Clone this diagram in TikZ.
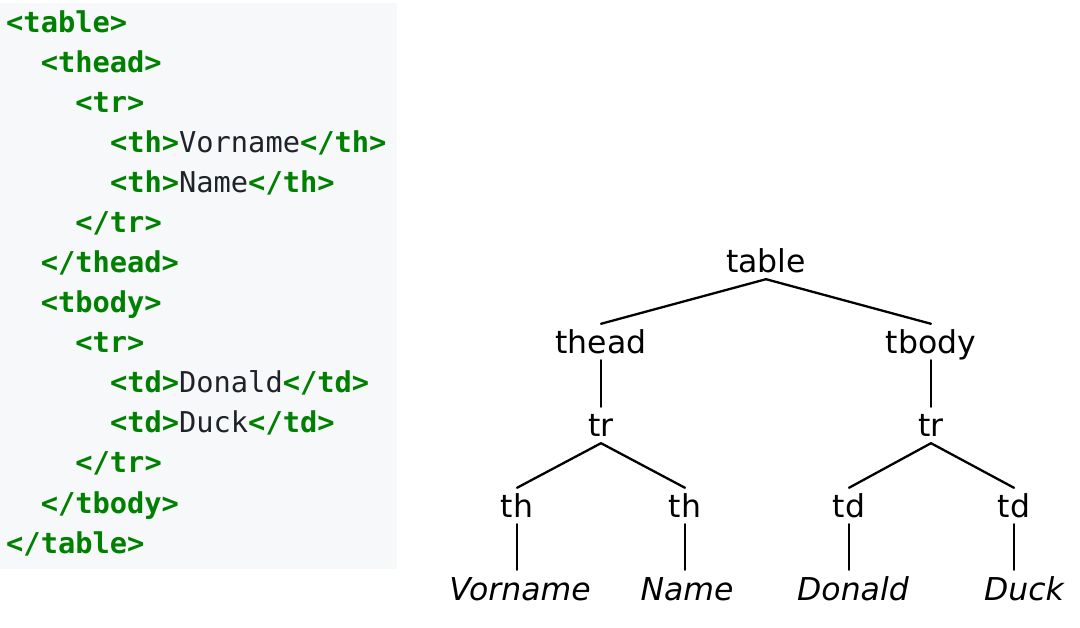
\documentclass[tikz,border=0pt]{standalone}
\usepackage{fontspec}
\setmonofont{DejaVu Sans Mono}
\newfontfamily\treefont{DejaVu Sans}
\definecolor{codebg}{HTML}{F6F8FA}
\definecolor{tagc}{HTML}{008000}
\definecolor{codetxt}{HTML}{1F2328}
\newcommand{\tg}[1]{\textcolor{tagc}{\bfseries #1}}
\begin{document}
\begin{tikzpicture}[x=1pt, y=-1pt, line cap=round, line join=round,
		code/.style={anchor=base west, inner sep=0pt, font=\fontsize{28.7}{30}\selectfont\ttfamily, text=codetxt},
		tn/.style={anchor=base, inner xsep=0pt, inner ysep=6pt, text height=24pt, text depth=0pt, font=\fontsize{31.5}{34}\selectfont\treefont},
		lf/.style={tn, font=\fontsize{31.5}{34}\selectfont\treefont\itshape},
		edge/.style={line width=2.3pt}]
		\useasboundingbox (0,0) rectangle (1080,628);
		\fill[codebg] (0,3) rectangle (397,569);
		\foreach \n/\ind/\txt in {1/0/{\tg{<table>}}, 2/1/{\tg{<thead>}}, 3/2/{\tg{<tr>}},
			4/3/{\tg{<th>}Vorname\tg{</th>}}, 5/3/{\tg{<th>}Name\tg{</th>}}, 6/2/{\tg{</tr>}},
			7/1/{\tg{</thead>}}, 8/1/{\tg{<tbody>}}, 9/2/{\tg{<tr>}},
			10/3/{\tg{<td>}Donald\tg{</td>}}, 11/3/{\tg{<td>}Duck\tg{</td>}}, 12/2/{\tg{</tr>}},
			13/1/{\tg{</tbody>}}, 14/0/{\tg{</table>}}}
			\node[code] (c\n) at ({6+34.6*\ind}, {33+40*(\n-1)}) {\txt};
		\node[tn] (table) at (766,273) {table};
		\node[tn] (thead) at (601,354) {thead};
		\node[tn] (tbody) at (931,354) {tbody};
		\node[tn] (trh) at (601,437) {tr};
		\node[tn] (trb) at (931,437) {tr};
		\node[tn] (th1) at (517,518) {th};
		\node[tn] (th2) at (685,518) {th};
		\node[tn] (td1) at (849,518) {td};
		\node[tn] (td2) at (1014,518) {td};
		\node[lf] (vorname) at (520,600) {Vorname};
		\node[lf] (name) at (687,600) {Name};
		\node[lf] (donald) at (853,600) {Donald};
		\node[lf] (duck) at (1024,600) {Duck};
		\foreach \a/\b in {table/thead, table/tbody, trh/th1, trh/th2, trb/td1, trb/td2}
			\draw[edge] (\a.south) -- (\b.north);
		\foreach \a/\b in {thead/trh, tbody/trb, th1/vorname, th2/name, td1/donald, td2/duck}
			\draw[edge] (\a.south) -- (\a.south |- \b.north);
\end{tikzpicture}
\end{document}
